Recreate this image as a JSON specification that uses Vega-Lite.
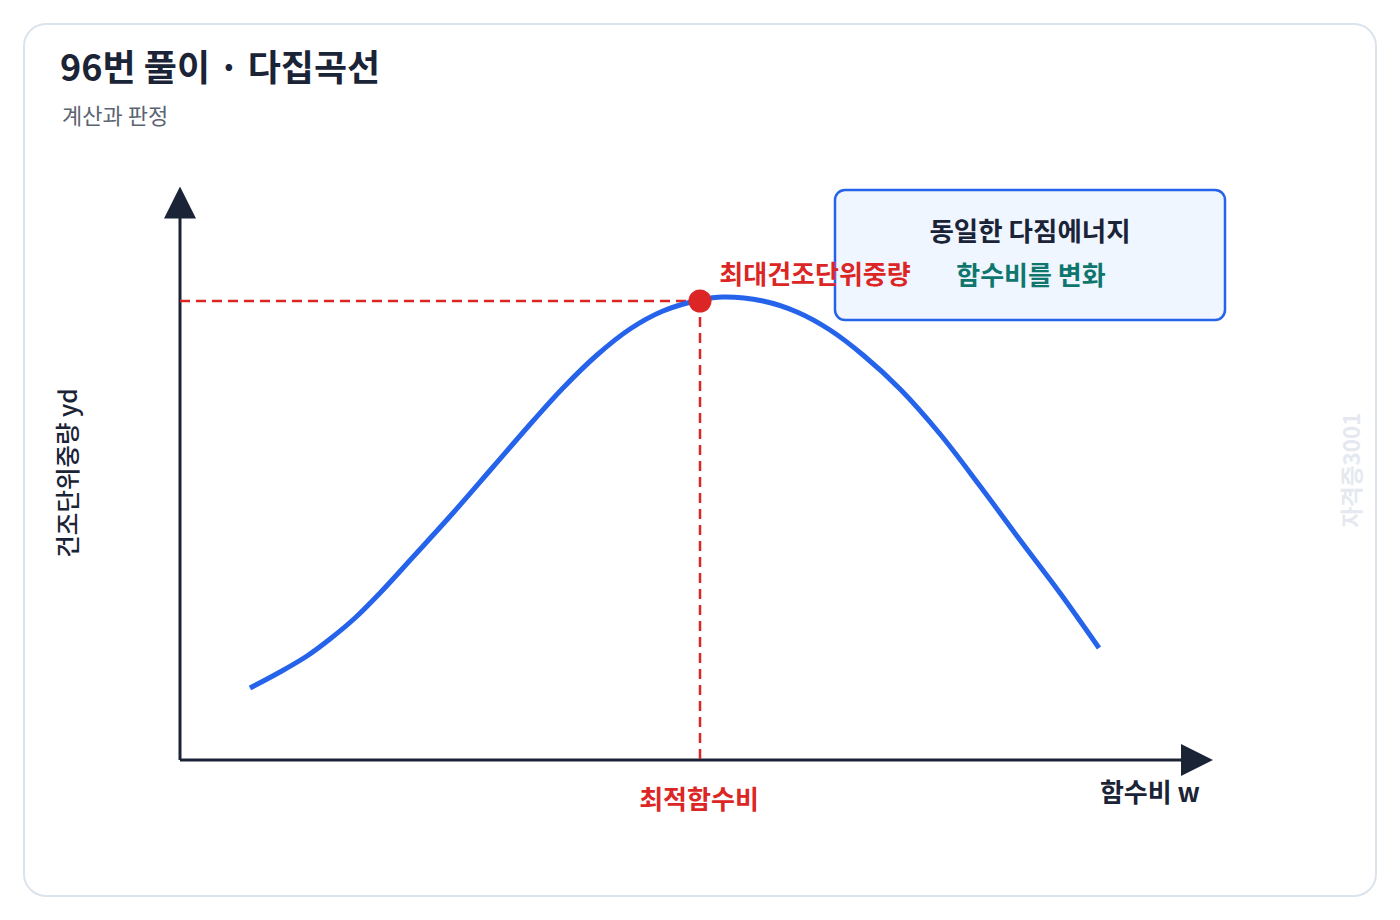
{
  "$schema": "https://vega.github.io/schema/vega-lite/v6.json",
  "width": 1400,
  "height": 920,
  "autosize": {"type": "fit", "contains": "padding"},
  "padding": 0,
  "background": "white",
  "config": {
    "view": {"stroke": null},
    "axis": {"disable": true},
    "font": "Noto Sans CJK KR",
    "text": {"font": "Noto Sans CJK KR"}
  },
  "datasets": {
    "card": [{"x": 24, "x2": 1376, "y": 24, "y2": 896}],
    "box": [{"x": 835, "x2": 1225, "y": 190, "y2": 320}],
    "axes": [
      {"x": 180, "y": 760, "x2": 180, "y2": 212},
      {"x": 180, "y": 760, "x2": 1186, "y2": 760}
    ],
    "arrowUp": [{"x": 180, "y": 202.5}],
    "arrowRight": [{"x": 1197, "y": 760}],
    "guides": [
      {"x": 180, "y": 301, "x2": 700, "y2": 301},
      {"x": 700, "y": 301, "x2": 700, "y2": 760}
    ],
    "curve": [
      {"x": 250, "y": 688},
      {"x": 280, "y": 672},
      {"x": 307, "y": 656},
      {"x": 330, "y": 639},
      {"x": 355, "y": 618},
      {"x": 380, "y": 593},
      {"x": 413, "y": 557},
      {"x": 453, "y": 513},
      {"x": 493, "y": 467},
      {"x": 533, "y": 421},
      {"x": 563, "y": 388},
      {"x": 597, "y": 355},
      {"x": 630, "y": 329},
      {"x": 663, "y": 311},
      {"x": 700, "y": 300},
      {"x": 723, "y": 297},
      {"x": 763, "y": 301},
      {"x": 797, "y": 312},
      {"x": 830, "y": 330},
      {"x": 863, "y": 355},
      {"x": 900, "y": 389},
      {"x": 940, "y": 434},
      {"x": 980, "y": 486},
      {"x": 1020, "y": 540},
      {"x": 1060, "y": 593},
      {"x": 1099, "y": 648}
    ],
    "peak": [{"x": 700, "y": 301}],
    "redLabels": [
      {"x": 815, "y": 276, "label": "최대건조단위중량"},
      {"x": 699, "y": 801, "label": "최적함수비"}
    ]
  },
  "encoding": {
    "x": {"type": "quantitative", "scale": {"domain": [0, 1400], "nice": false, "zero": false}},
    "y": {"type": "quantitative", "scale": {"domain": [0, 920], "nice": false, "zero": false, "reverse": true}}
  },
  "layer": [
    {
      "data": {"name": "card"},
      "mark": {"type": "rect", "fill": "white", "stroke": "#dbe3ec", "strokeWidth": 2, "cornerRadius": 22},
      "encoding": {
        "x": {"field": "x", "type": "quantitative"},
        "x2": {"field": "x2"},
        "y": {"field": "y", "type": "quantitative"},
        "y2": {"field": "y2"}
      }
    },
    {
      "data": {"name": "axes"},
      "mark": {"type": "rule", "stroke": "#1b2336", "strokeWidth": 3},
      "encoding": {
        "x": {"field": "x", "type": "quantitative"},
        "x2": {"field": "x2"},
        "y": {"field": "y", "type": "quantitative"},
        "y2": {"field": "y2"}
      }
    },
    {
      "data": {"name": "arrowUp"},
      "mark": {"type": "point", "shape": "M0,-1L1,1L-1,1Z", "size": 1024, "filled": true, "fill": "#1b2336", "opacity": 1, "strokeWidth": 0},
      "encoding": {
        "x": {"field": "x", "type": "quantitative"},
        "y": {"field": "y", "type": "quantitative"}
      }
    },
    {
      "data": {"name": "arrowRight"},
      "mark": {"type": "point", "shape": "M1,0L-1,-1L-1,1Z", "size": 1024, "filled": true, "fill": "#1b2336", "opacity": 1, "strokeWidth": 0},
      "encoding": {
        "x": {"field": "x", "type": "quantitative"},
        "y": {"field": "y", "type": "quantitative"}
      }
    },
    {
      "data": {"name": "guides"},
      "mark": {"type": "rule", "stroke": "#dc2626", "strokeWidth": 2.5, "strokeDash": [10, 6]},
      "encoding": {
        "x": {"field": "x", "type": "quantitative"},
        "x2": {"field": "x2"},
        "y": {"field": "y", "type": "quantitative"},
        "y2": {"field": "y2"}
      }
    },
    {
      "data": {"name": "curve"},
      "mark": {"type": "line", "stroke": "#2563eb", "strokeWidth": 5, "interpolate": "catmull-rom", "strokeCap": "butt"},
      "encoding": {
        "x": {"field": "x", "type": "quantitative"},
        "y": {"field": "y", "type": "quantitative"}
      }
    },
    {
      "data": {"name": "peak"},
      "mark": {"type": "point", "shape": "circle", "size": 530, "filled": true, "fill": "#dc2626", "opacity": 1, "strokeWidth": 0},
      "encoding": {
        "x": {"field": "x", "type": "quantitative"},
        "y": {"field": "y", "type": "quantitative"}
      }
    },
    {
      "data": {"name": "box"},
      "mark": {"type": "rect", "fill": "#eff6ff", "stroke": "#2563eb", "strokeWidth": 2.5, "cornerRadius": 10},
      "encoding": {
        "x": {"field": "x", "type": "quantitative"},
        "x2": {"field": "x2"},
        "y": {"field": "y", "type": "quantitative"},
        "y2": {"field": "y2"}
      }
    },
    {
      "data": {"name": "redLabels"},
      "mark": {"type": "text", "fontSize": 26, "fontWeight": "bold", "fill": "#dc2626", "align": "center", "baseline": "middle"},
      "encoding": {
        "x": {"field": "x", "type": "quantitative"},
        "y": {"field": "y", "type": "quantitative"},
        "text": {"field": "label"}
      }
    },
    {
      "data": {"values": [{"x": 1030, "y": 233, "label": "동일한 다짐에너지"}]},
      "mark": {"type": "text", "fontSize": 26.5, "fontWeight": "bold", "fill": "#1b2336", "align": "center", "baseline": "middle"},
      "encoding": {
        "x": {"field": "x", "type": "quantitative"},
        "y": {"field": "y", "type": "quantitative"},
        "text": {"field": "label"}
      }
    },
    {
      "data": {"values": [{"x": 1031, "y": 277, "label": "함수비를 변화"}]},
      "mark": {"type": "text", "fontSize": 26, "fontWeight": "bold", "fill": "#0f766e", "align": "center", "baseline": "middle"},
      "encoding": {
        "x": {"field": "x", "type": "quantitative"},
        "y": {"field": "y", "type": "quantitative"},
        "text": {"field": "label"}
      }
    },
    {
      "data": {"values": [{"x": 1200, "y": 794, "label": "함수비 w"}]},
      "mark": {"type": "text", "fontSize": 26, "fontWeight": "bold", "fill": "#1b2336", "align": "right", "baseline": "middle"},
      "encoding": {
        "x": {"field": "x", "type": "quantitative"},
        "y": {"field": "y", "type": "quantitative"},
        "text": {"field": "label"}
      }
    },
    {
      "data": {"values": [{"x": 70, "y": 473, "label": "건조단위중량 yd"}]},
      "mark": {"type": "text", "fontSize": 24.5, "fontWeight": 500, "fill": "#1b2336", "align": "center", "baseline": "middle", "angle": 270},
      "encoding": {
        "x": {"field": "x", "type": "quantitative"},
        "y": {"field": "y", "type": "quantitative"},
        "text": {"field": "label"}
      }
    },
    {
      "data": {"values": [{"x": 1353, "y": 470, "label": "자격증3001"}]},
      "mark": {"type": "text", "fontSize": 22.5, "fontWeight": "bold", "fill": "#e5e9ef", "align": "center", "baseline": "middle", "angle": 270},
      "encoding": {
        "x": {"field": "x", "type": "quantitative"},
        "y": {"field": "y", "type": "quantitative"},
        "text": {"field": "label"}
      }
    },
    {
      "data": {"values": [{"x": 60, "y": 70, "label": "96번 풀이 · 다집곡선"}]},
      "mark": {"type": "text", "fontSize": 36, "fontWeight": "bold", "fill": "#1b2336", "align": "left", "baseline": "middle"},
      "encoding": {
        "x": {"field": "x", "type": "quantitative"},
        "y": {"field": "y", "type": "quantitative"},
        "text": {"field": "label"}
      }
    },
    {
      "data": {"values": [{"x": 62, "y": 117, "label": "계산과 판정"}]},
      "mark": {"type": "text", "fontSize": 22, "fill": "#5b6472", "align": "left", "baseline": "middle"},
      "encoding": {
        "x": {"field": "x", "type": "quantitative"},
        "y": {"field": "y", "type": "quantitative"},
        "text": {"field": "label"}
      }
    }
  ]
}
